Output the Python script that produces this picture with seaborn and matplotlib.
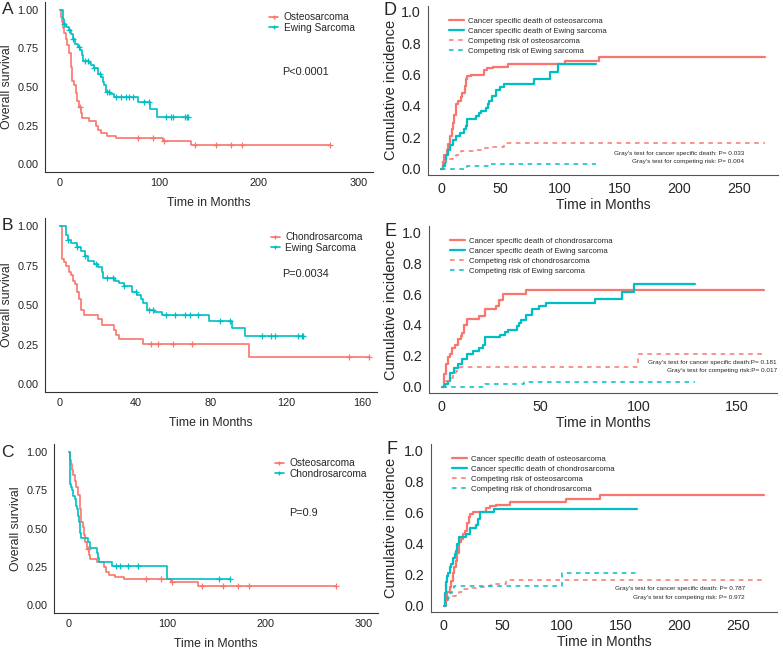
import numpy as np
import seaborn as sns
import matplotlib.pyplot as plt
from matplotlib.lines import Line2D

RED = "#F8766D"
TEAL = "#00BFC4"

# Kaplan-Meier step data (time in months, survival)
osteo_t = [0, 1, 2, 3, 4, 6, 7, 9, 11, 12, 14, 16, 17, 19, 21, 22, 29, 36, 38, 41, 47, 56, 104, 132]
osteo_s = [1.0, 0.95, 0.92, 0.88, 0.85, 0.81, 0.77, 0.72, 0.63, 0.54, 0.51, 0.46, 0.41, 0.37,
           0.33, 0.30, 0.28, 0.25, 0.22, 0.20, 0.185, 0.17, 0.15, 0.125]
osteo_end = 272
osteo_cens = [20, 79, 94, 105, 136, 157, 172, 183, 272]

ewing_t = [0, 3, 4, 6, 9, 11, 13, 15, 18, 20, 22, 23, 29, 31, 34, 38, 41, 43, 44, 46, 50, 54, 79, 91, 98]
ewing_s = [1.0, 0.94, 0.91, 0.89, 0.87, 0.84, 0.81, 0.78, 0.76, 0.74, 0.71, 0.67, 0.655, 0.64,
           0.62, 0.585, 0.565, 0.535, 0.51, 0.47, 0.455, 0.435, 0.40, 0.355, 0.305]
ewing_end = 129
ewing_cens = [4, 9, 13, 19, 25, 28, 34, 40, 47, 49, 56, 61, 66, 69, 73, 85, 90, 107, 112, 114, 126, 128, 129]

chondro_t = [0, 1, 2, 3.3, 4.8, 6, 7, 8, 9.2, 10.2, 11.3, 12.7, 20, 22, 28.5, 29.5, 31, 44, 100]
chondro_s = [1.0, 0.79, 0.77, 0.75, 0.71, 0.69, 0.65, 0.63, 0.58, 0.54, 0.47, 0.44, 0.41, 0.375,
             0.34, 0.31, 0.285, 0.255, 0.17]
chondro_end = 164
chondro_cens = [48, 52, 60, 70, 153, 164]

# cumulative incidence step data
osteo_cs_t = [0, 2, 2.5, 5, 6, 7.5, 9, 10, 11, 12.5, 14.5, 16.5, 18, 20, 21, 22, 25, 36, 39, 44, 56, 104, 133]
osteo_cs_v = [0, 0.04, 0.09, 0.12, 0.16, 0.21, 0.25, 0.29, 0.34, 0.41, 0.43, 0.46, 0.48, 0.53,
              0.57, 0.59, 0.60, 0.63, 0.64, 0.65, 0.665, 0.685, 0.71]
osteo_cr_t = [0, 2, 3.5, 7, 10, 13, 17, 24, 28, 35, 40, 53]
osteo_cr_v = [0, 0.04, 0.05, 0.06, 0.075, 0.09, 0.11, 0.115, 0.12, 0.13, 0.14, 0.165]

ewing_cs_t = [0, 1.5, 3, 4, 6, 8, 10, 13, 16, 19, 21, 22, 29.5, 32, 33.5, 38, 39.5, 40.5, 43, 46,
              49.5, 53, 78, 91.5, 98]
ewing_cs_v = [0, 0.02, 0.04, 0.09, 0.12, 0.15, 0.18, 0.21, 0.23, 0.25, 0.27, 0.32, 0.335, 0.355,
              0.37, 0.39, 0.41, 0.43, 0.465, 0.50, 0.52, 0.54, 0.57, 0.615, 0.665]
ewing_cr_t = [0, 22, 42]
ewing_cr_v = [0, 0.015, 0.03]

chondro_cs_t = [0, 1, 2, 3, 4, 5, 6.5, 8, 9.5, 10, 11, 13, 19, 22, 27.5, 29, 31, 43]
chondro_cs_v = [0, 0.083, 0.15, 0.19, 0.21, 0.25, 0.27, 0.31, 0.33, 0.35, 0.40, 0.44, 0.46, 0.50,
                0.52, 0.56, 0.60, 0.625]
chondro_cr_t = [0, 2, 3.5, 5.5, 7, 9, 100]
chondro_cr_v = [0, 0.04, 0.06, 0.08, 0.10, 0.125, 0.21]

sns.set_style("white")
plt.rcParams["font.family"] = ["Liberation Sans", "DejaVu Sans"]

fig = plt.figure(figsize=(7.83, 6.49), dpi=100)


def step_xy(t, v, end):
    return list(t) + [end], list(v) + [v[-1]]


def km_curve(ax, t, s, end, cens, color):
    x, y = step_xy(t, s, end)
    sns.lineplot(x=x, y=y, drawstyle="steps-post", color=color, lw=1.2, ax=ax)
    idx = np.searchsorted(t, cens, side="right") - 1
    cy = np.array(s)[idx]
    ax.plot(cens, cy, ls="none", marker="+", ms=4, mew=0.9, color=color)


def km_panel(rect, letter, curves, labels, ptxt, xmax, xticks, leg_xy, p_xy):
    ax = fig.add_axes(rect)
    for (t, s, end, cens), col in zip(curves, [RED, TEAL]):
        km_curve(ax, t, s, end, cens, col)
    pad = xmax * 0.05
    ax.set_xlim(-pad, xmax + pad)
    ax.set_ylim(-0.05, 1.05)
    ax.set_xticks(xticks)
    ax.set_yticks([0, 0.25, 0.5, 0.75, 1.0])
    ax.set_yticklabels(["0.00", "0.25", "0.50", "0.75", "1.00"])
    for sp in ["top", "right"]:
        ax.spines[sp].set_visible(False)
    for sp in ["left", "bottom"]:
        ax.spines[sp].set_color("#333333")
        ax.spines[sp].set_linewidth(0.8)
    ax.tick_params(length=3, width=0.8, color="#333333", labelsize=7.8, pad=1.5, labelcolor="#222222")
    ax.set_xlabel("Time in Months", fontsize=8.8, labelpad=6)
    ax.set_ylabel("Overall survival", fontsize=8.8, labelpad=3)
    handles = [Line2D([], [], color=c, lw=1.2, marker="+", ms=3.5, mew=0.9) for c in [RED, TEAL]]
    fig.legend(handles, labels, loc="upper left", bbox_to_anchor=leg_xy, frameon=False,
               fontsize=7.3, handlelength=0.9, handletextpad=0.5, labelspacing=0.05,
               borderpad=0, borderaxespad=0)
    fig.text(p_xy[0], p_xy[1], ptxt, fontsize=7.8, va="center", ha="left")
    fig.text(0.002, rect[1] + rect[3] - 0.012, letter, fontsize=12.5, va="center", ha="left")
    return ax


def cif_panel(rect, letter, solid, dashed, labels, tests, test_xy):
    ax = fig.add_axes(rect)
    xmax = 0
    for (t, v, end), col in zip(solid, [RED, TEAL]):
        x, y = step_xy(t, v, end)
        sns.lineplot(x=x, y=y, drawstyle="steps-post", color=col, lw=1.6, ax=ax)
        xmax = max(xmax, end)
    for (t, v, end), col in zip(dashed, [RED, TEAL]):
        x, y = step_xy(t, v, end)
        sns.lineplot(x=x, y=y, drawstyle="steps-post", color=col, lw=1.1, ls=(0, (3, 3)), ax=ax)
    pad = xmax * 0.04
    ax.set_xlim(-pad, xmax + pad)
    ax.set_ylim(-0.04, 1.04)
    ax.set_xticks(range(0, int(xmax) + 1, 50))
    ax.set_yticks([0, 0.2, 0.4, 0.6, 0.8, 1.0])
    ax.set_yticklabels(["0.0", "0.2", "0.4", "0.6", "0.8", "1.0"])
    for sp in ["top", "right"]:
        ax.spines[sp].set_visible(False)
    for sp in ["left", "bottom"]:
        ax.spines[sp].set_color("#555555")
        ax.spines[sp].set_linewidth(0.8)
    ax.tick_params(length=3, width=0.8, color="#555555", labelsize=10.3, pad=2)
    ax.set_xlabel("Time in Months", fontsize=10)
    ax.set_ylabel("Cumulative incidence", fontsize=10.5)
    ax.xaxis.set_label_coords(0.5, -0.136)
    ax.yaxis.set_label_coords((398 - rect[0] * 783) / (rect[2] * 783), 0.5)
    handles = [Line2D([], [], color=RED, lw=1.6), Line2D([], [], color=TEAL, lw=1.6),
               Line2D([], [], color=RED, lw=1.1, ls=(0, (3, 3))),
               Line2D([], [], color=TEAL, lw=1.1, ls=(0, (3, 3)))]
    ax.legend(handles, labels, loc="upper left", bbox_to_anchor=(0.06, 0.93), frameon=False,
              fontsize=5.6, handlelength=1.9, handletextpad=0.6, labelspacing=0.32,
              borderpad=0, borderaxespad=0)
    fig.text(test_xy[0], test_xy[1], tests[0], fontsize=4.6, ha="right", va="center")
    fig.text(test_xy[0], test_xy[1] - 0.013, tests[1], fontsize=4.6, ha="right", va="center")
    fig.text(rect[0] - 0.057, rect[1] + rect[3] - 0.008, letter, fontsize=13, va="center", ha="left")
    return ax


osteo = (osteo_t, osteo_s, osteo_end, osteo_cens)
ewing = (ewing_t, ewing_s, ewing_end, ewing_cens)
chondro = (chondro_t, chondro_s, chondro_end, chondro_cens)

km_panel([0.0575, 0.735, 0.419, 0.262], "A", [osteo, ewing], ["Osteosarcoma", "Ewing Sarcoma"],
         "P<0.0001", 300, [0, 100, 200, 300], (0.344, 0.981), (0.360, 0.889))
km_panel([0.0575, 0.396, 0.424, 0.268], "B", [chondro, ewing], ["Chondrosarcoma", "Ewing Sarcoma"],
         "P=0.0034", 160, [0, 40, 80, 120, 160], (0.346, 0.642), (0.360, 0.578))
km_panel([0.069, 0.0555, 0.414, 0.260], "C", [osteo, chondro], ["Osteosarcoma", "Chondrosarcoma"],
         "P=0.9", 300, [0, 100, 200, 300], (0.351, 0.294), (0.369, 0.209))

cif_panel([0.5466, 0.7304, 0.447, 0.261], "D",
          [(osteo_cs_t, osteo_cs_v, osteo_end), (ewing_cs_t, ewing_cs_v, ewing_end + 1)],
          [(osteo_cr_t, osteo_cr_v, osteo_end), (ewing_cr_t, ewing_cr_v, ewing_end + 1)],
          ["Cancer specific death of osteosarcoma", "Cancer specific death of Ewing sarcoma",
           "Competing risk of osteosarcoma", "Competing risk of Ewing sarcoma"],
          ["Gray's test for cancer specific death: P= 0.033", "Gray's test for competing risk: P= 0.004"],
          (0.950, 0.764))
cif_panel([0.5479, 0.3945, 0.4444, 0.2573], "E",
          [(chondro_cs_t, chondro_cs_v, chondro_end), (ewing_cs_t, ewing_cs_v, ewing_end)],
          [(chondro_cr_t, chondro_cr_v, chondro_end), (ewing_cr_t, ewing_cr_v, ewing_end)],
          ["Cancer specific death of chondrosarcoma", "Cancer specific death of Ewing sarcoma",
           "Competing risk of chondrosarcoma", "Competing risk of Ewing sarcoma"],
          ["Gray's test for cancer specific death:P= 0.181", "Gray's test for competing risk:P= 0.017"],
          (0.992, 0.442))
cif_panel([0.5504, 0.057, 0.4419, 0.2589], "F",
          [(osteo_cs_t, osteo_cs_v, osteo_end), (chondro_cs_t, chondro_cs_v, chondro_end)],
          [(osteo_cr_t, osteo_cr_v, osteo_end), (chondro_cr_t, chondro_cr_v, chondro_end)],
          ["Cancer specific death of osteosarcoma", "Cancer specific death of chondrosarcoma",
           "Competing risk of osteosarcoma", "Competing risk of chondrosarcoma"],
          ["Gray's test for cancer specific death: P= 0.787", "Gray's test for competing risk: P= 0.972"],
          (0.951, 0.093))

fig.savefig("out.png", dpi=100)
